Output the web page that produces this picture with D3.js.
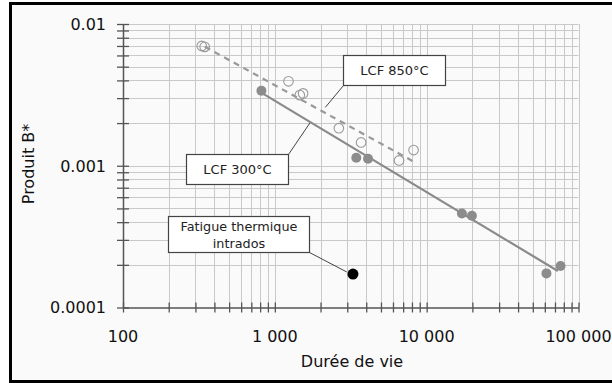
<!DOCTYPE html>
<html><head><meta charset="utf-8">
<script src="https://cdn.jsdelivr.net/npm/d3@7"></script>
<style>body{margin:0;background:#fff}svg{display:block}</style>
</head><body>
<svg id="c" width="612" height="383"></svg>
<script>
// Data
const lcf850Life = [330, 345, 1230, 1460, 1535, 2640, 3700, 6580, 8200];
const lcf850B    = [0.0070, 0.0069, 0.00394, 0.00315, 0.00324, 0.00184, 0.00146, 0.00109, 0.00129];
const lcf300Life = [816, 3440, 4110, 17060, 19860, 61500, 76200];
const lcf300B    = [0.00338, 0.00114, 0.00112, 0.000461, 0.000444, 0.000174, 0.000196];
const thermLife  = [3270];
const thermB     = [0.000172];
const fit300Life = [830, 73100];
const fit300B    = [0.00324, 0.000181];
const fit850Life = [346, 8200];
const fit850B    = [0.00692, 0.00107];
const xTicks = [100, 1000, 10000, 100000];
const xTickLabels = ["100", "1 000", "10 000", "100 000"];
const yTicks = [0.0001, 0.001, 0.01];
const yTickLabels = ["0.0001", "0.001", "0.01"];

const svg = d3.select("#c");
const font = "DejaVu Sans, Verdana, sans-serif";
// background + frame
svg.append("rect").attr("x",10.5).attr("y",3.5).attr("width",700).attr("height",378)
  .attr("fill","#fafafa").attr("stroke","#000").attr("stroke-width",3);

const x = d3.scaleLog().domain([100,100000]).range([123,578.5]);
const y = d3.scaleLog().domain([0.0001,0.01]).range([307.5,24]);

// minor values
const xMinor = [], yMinor = [];
for (let d=100; d<100000; d*=10) for (let k=2;k<=9;k++) xMinor.push(d*k);
for (let d=0.0001; d<0.0099; d*=10) for (let k=2;k<=9;k++) yMinor.push(d*k);

const g = svg.append("g");
// grid
g.selectAll(".gx").data(xMinor.concat(xTicks.slice(1))).join("line")
  .attr("x1",d=>Math.round(x(d))+0.5).attr("x2",d=>Math.round(x(d))+0.5)
  .attr("y1",y(0.01)).attr("y2",y(0.0001)).attr("stroke","#c9c9c9").attr("stroke-width",1);
g.selectAll(".gy").data(yMinor.concat([0.001,0.01])).join("line")
  .attr("y1",d=>Math.round(y(d))+0.5).attr("y2",d=>Math.round(y(d))+0.5)
  .attr("x1",x(100)).attr("x2",x(100000)).attr("stroke","#c9c9c9").attr("stroke-width",1);

// axes
const xAxis = d3.axisBottom(x).tickValues(xMinor.concat(xTicks)).tickFormat("").tickSizeInner(0).tickSizeOuter(0);
const ax = svg.append("g").attr("transform",`translate(0,${y(0.0001)})`).call(xAxis);
ax.select(".domain").attr("stroke","#555").attr("stroke-width",1.5);
ax.selectAll(".tick line").attr("y1",-5).attr("y2",5).attr("stroke","#555").attr("stroke-width",1.3);
const yAxis = d3.axisLeft(y).tickValues(yMinor.concat(yTicks)).tickFormat("").tickSizeInner(0).tickSizeOuter(0);
const ay = svg.append("g").attr("transform",`translate(${x(100)},0)`).call(yAxis);
ay.select(".domain").attr("stroke","#555").attr("stroke-width",1.5);
ay.selectAll(".tick line").attr("x1",-6).attr("x2",6).attr("stroke","#555").attr("stroke-width",1.3);

// tick labels
svg.selectAll(".xl").data(xTicks).join("text")
  .attr("x",d=>x(d)).attr("y",342).attr("text-anchor","middle")
  .attr("font-family",font).attr("font-size",16).attr("fill","#111")
  .text((d,i)=>xTickLabels[i]);
svg.selectAll(".yl").data(yTicks).join("text")
  .attr("x",106).attr("y",d=>y(d)).attr("dy","0.36em").attr("text-anchor","end")
  .attr("font-family",font).attr("font-size",16).attr("fill","#111")
  .text((d,i)=>yTickLabels[i]);
svg.append("text").attr("x",352).attr("y",367).attr("text-anchor","middle")
  .attr("font-family",font).attr("font-size",16).attr("fill","#111").text("Durée de vie");
svg.append("text").attr("transform","translate(34,164) rotate(-90)").attr("text-anchor","middle")
  .attr("font-family",font).attr("font-size",16).attr("fill","#111").text("Produit B*");

// fit lines
const line = d3.line().x(d=>x(d[0])).y(d=>y(d[1]));
svg.append("path").attr("d",line(d3.zip(fit300Life,fit300B))).attr("stroke","#8a8a8a").attr("stroke-width",2.2).attr("fill","none");
svg.append("path").attr("d",line(d3.zip(fit850Life,fit850B))).attr("stroke","#999").attr("stroke-width",2.2)
  .attr("stroke-dasharray","6,5").attr("fill","none");

// points
svg.selectAll(".p3").data(d3.zip(lcf300Life,lcf300B)).join("circle")
  .attr("cx",d=>x(d[0])).attr("cy",d=>y(d[1])).attr("r",5).attr("fill","#8c8c8c");
svg.selectAll(".p8").data(d3.zip(lcf850Life,lcf850B)).join("circle")
  .attr("cx",d=>x(d[0])).attr("cy",d=>y(d[1])).attr("r",4.8).attr("fill","none")
  .attr("stroke","#999").attr("stroke-width",1.1);
svg.selectAll(".pt").data(d3.zip(thermLife,thermB)).join("circle")
  .attr("cx",d=>x(d[0])).attr("cy",d=>y(d[1])).attr("r",5.5).attr("fill","#000");

// annotations
function callout(bx,by,bw,bh,lines,lx1,ly1,tx,tyv,fs,lh){
  svg.append("line").attr("x1",lx1).attr("y1",ly1).attr("x2",x(tx)).attr("y2",y(tyv))
    .attr("stroke","#444").attr("stroke-width",1);
  svg.append("rect").attr("x",bx).attr("y",by).attr("width",bw).attr("height",bh)
    .attr("fill","#fff").attr("stroke","#444").attr("stroke-width",1.2);
  const t = svg.append("text").attr("font-family",font).attr("font-size",fs).attr("fill","#222").attr("text-anchor","middle");
  const n = lines.length;
  lines.forEach((s,i)=>{
    t.append("tspan").attr("x",bx+bw/2).attr("y",by+bh/2+(i-(n-1)/2)*lh).attr("dy","0.36em").text(s);
  });
}
callout(343.5,55.5,102,30,["LCF 850°C"],343.5,85.5,2150,0.00258,13,16);
callout(186.5,154.5,102,30,["LCF 300°C"],288.5,154.5,1700,0.0020,13,16);
callout(168.5,216.5,141,36,["Fatigue thermique","intrados"],309.5,252.5,2980,0.000178,12.8,17);
</script>
</body></html>
